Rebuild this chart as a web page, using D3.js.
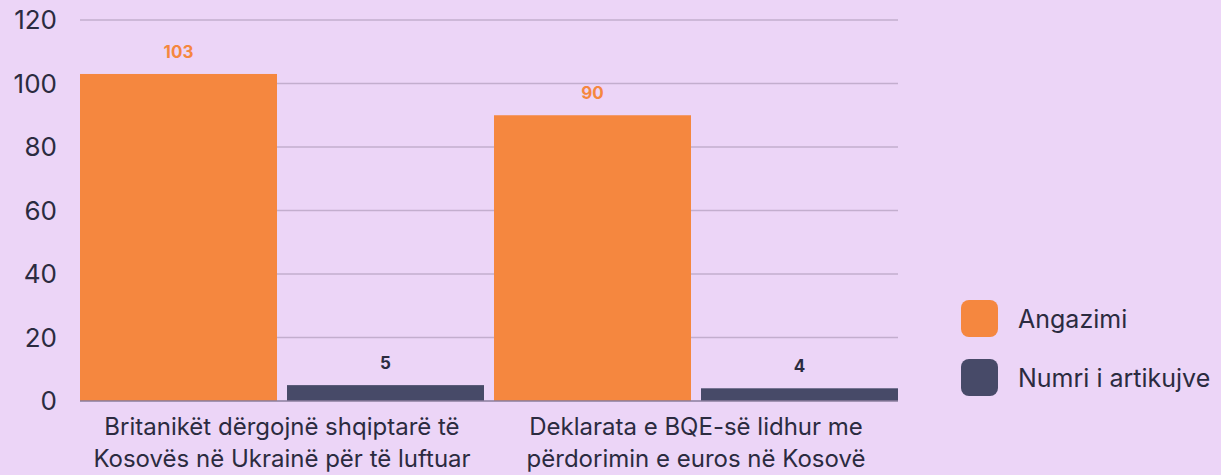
<!DOCTYPE html>
<html>
<head>
<meta charset="utf-8">
<script src="https://cdn.jsdelivr.net/npm/d3@7"></script>
<style>
  body { margin: 0; background: #ecd5f7; }
  svg { display: block; font-family: Inter, "Noto Sans", sans-serif; }
</style>
</head>
<body>
<div class="vizcontainer"></div>
<script>
const categories = [
  ["Britanikët dërgojnë shqiptarë të", "Kosovës në Ukrainë për të luftuar"],
  ["Deklarata e BQE-së lidhur me", "përdorimin e euros në Kosovë"]
];
const seriesNames = ["Angazimi", "Numri i artikujve"];
const angazimi = [103, 90];
const artikuj = [5, 4];
const yTicks = [0, 20, 40, 60, 80, 100, 120];

const colors = ["#f5873f", "#474a68"];
const textColor = "#2b2b40";

const width = 1221, height = 475;
const plot = { left: 80, right: 898, top: 20, bottom: 401 };

const svg = d3.select(".vizcontainer").append("svg")
  .attr("width", width).attr("height", height);

svg.append("rect").attr("width", width).attr("height", height).attr("fill", "#ecd5f7");

const y = d3.scaleLinear().domain([0, 120]).range([plot.bottom, plot.top]);

const x0 = d3.scaleBand().domain(d3.range(categories.length))
  .range([plot.left, plot.right]).paddingInner(10 / 414);
const x1 = d3.scaleBand().domain(d3.range(seriesNames.length))
  .range([0, x0.bandwidth()]).paddingInner(10 / 207);

// grid
svg.append("g").selectAll("line").data(yTicks.filter(d => d > 0)).enter()
  .append("line")
  .attr("x1", plot.left).attr("x2", plot.right)
  .attr("y1", d => y(d)).attr("y2", d => y(d))
  .attr("stroke", "#c3aece").attr("stroke-width", 1.5);

// y tick labels
svg.append("g").selectAll("text").data(yTicks).enter()
  .append("text")
  .attr("x", 57).attr("y", d => y(d))
  .attr("dy", "0.36em")
  .attr("text-anchor", "end")
  .attr("font-size", 26)
  .attr("fill", textColor)
  .text(d => d);

const rows = categories.map((c, i) => [angazimi[i], artikuj[i]]);

const groups = svg.append("g").selectAll("g").data(rows).enter()
  .append("g")
  .attr("transform", (d, i) => "translate(" + x0(i) + ",0)");

groups.selectAll("rect").data(d => d).enter()
  .append("rect")
  .attr("x", (d, j) => x1(j))
  .attr("width", x1.bandwidth())
  .attr("y", d => y(d))
  .attr("height", d => y(0) - y(d))
  .attr("fill", (d, j) => colors[j]);

groups.selectAll("text").data(d => d).enter()
  .append("text")
  .attr("x", (d, j) => x1(j) + x1.bandwidth() / 2)
  .attr("y", d => y(d) - 16)
  .attr("text-anchor", "middle")
  .attr("font-size", 17)
  .attr("font-weight", 700)
  .attr("fill", (d, j) => j === 0 ? colors[0] : textColor)
  .text(d => d);

// baseline
svg.append("line")
  .attr("x1", plot.left).attr("x2", plot.right)
  .attr("y1", y(0)).attr("y2", y(0))
  .attr("stroke", "#8a7d9c").attr("stroke-width", 1.5);

// category labels
const catLabels = svg.append("g").selectAll("text").data(categories).enter()
  .append("text")
  .attr("text-anchor", "middle")
  .attr("font-size", 24)
  .attr("fill", textColor);
catLabels.selectAll("tspan").data((d, i) => d.map(t => ({ t, i }))).enter()
  .append("tspan")
  .attr("x", d => x0(d.i) + x0.bandwidth() / 2)
  .attr("y", (d, k) => 435 + k * 32)
  .text(d => d.t);

// legend
const legend = svg.append("g").attr("id", "legend");
legend.selectAll("rect").data(seriesNames).enter()
  .append("rect")
  .attr("x", 961).attr("y", (d, i) => 300 + i * 59)
  .attr("width", 37).attr("height", 37)
  .attr("rx", 8).attr("ry", 8)
  .attr("fill", (d, i) => colors[i]);
legend.selectAll("text").data(seriesNames).enter()
  .append("text")
  .attr("x", 1018).attr("y", (d, i) => 319 + i * 59)
  .attr("dy", "0.36em")
  .attr("font-size", 25)
  .attr("fill", textColor)
  .text(d => d);
</script>
</body>
</html>
